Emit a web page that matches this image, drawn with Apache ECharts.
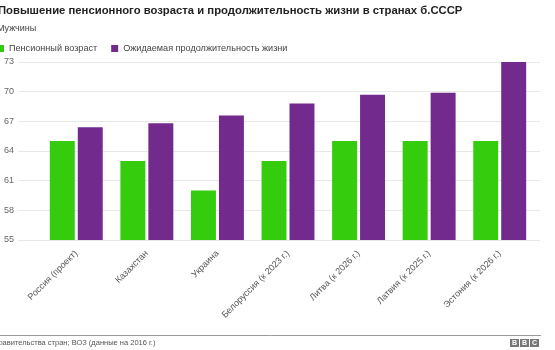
<!DOCTYPE html>
<html><head><meta charset="utf-8">
<script src="https://cdn.jsdelivr.net/npm/echarts@6/dist/echarts.min.js"></script>
<style>html,body{margin:0;padding:0;background:#fff}#c{width:555px;height:350px}</style>
</head><body><div id="c"></div>
<script>
const categories = ["Россия (проект)", "Казахстан", "Украина", "Белоруссия (к 2023 г.)", "Литва (к 2026 г.)", "Латвия (к 2025 г.)", "Эстония (к 2026 г.)"];
const pensionAge = [65, 63, 60, 63, 65, 65, 65];
const lifeExpectancy = [66.4, 66.8, 67.6, 68.8, 69.7, 69.9, 73];
const yTicks = [55, 58, 61, 64, 67, 70, 73];

const FONT = '"Liberation Sans", Arial, sans-serif';
const chart = echarts.init(document.getElementById('c'));
chart.setOption({
  animation: false,
  textStyle: {fontFamily: FONT},
  title: [
    {text: 'Повышение пенсионного возраста и продолжительность жизни в странах б.СССР', left: -7, top: 0,
     textStyle: {fontSize: 11.3, fontWeight: 'bold', color: '#222', fontFamily: FONT}},
    {text: 'Мужчины', left: -8, top: 19, textStyle: {fontSize: 9, fontWeight: 'normal', color: '#444', fontFamily: FONT}}
  ],
  legend: {
    left: -8, top: 39, itemWidth: 7, itemHeight: 7, itemGap: 14, icon: 'rect',
    textStyle: {fontSize: 9.1, color: '#444'},
    data: ['Пенсионный возраст', 'Ожидаемая продолжительность жизни']
  },
  grid: [
    {left: 18, right: 15, top: 62, bottom: 110},
    {left: 41, right: 20, top: 62, bottom: 110}
  ],
  xAxis: [
    {gridIndex: 0, type: 'category', data: categories, show: false},
    {gridIndex: 1, type: 'category', data: categories,
     axisLine: {show: false}, axisTick: {show: false},
     axisLabel: {rotate: 45, interval: 0, fontSize: 9, color: '#555', margin: 12}}
  ],
  yAxis: [
    {gridIndex: 0, type: 'value', min: yTicks[0], max: yTicks[yTicks.length - 1], interval: 3,
     axisLine: {show: false}, axisTick: {show: false},
     axisLabel: {fontSize: 9, color: '#666', margin: 4, align: 'right'},
     splitLine: {lineStyle: {color: '#e8e8e8'}}},
    {gridIndex: 1, type: 'value', min: yTicks[0], max: yTicks[yTicks.length - 1], interval: 3,
     show: false, splitLine: {show: false}}
  ],
  series: [
    {name: 'Пенсионный возраст', type: 'bar', xAxisIndex: 1, yAxisIndex: 1, data: pensionAge,
     itemStyle: {color: '#36cc0e'}, barGap: '12%', barCategoryGap: '25%'},
    {name: 'Ожидаемая продолжительность жизни', type: 'bar', xAxisIndex: 1, yAxisIndex: 1, data: lifeExpectancy,
     itemStyle: {color: '#722a8c'}, barGap: '12%', barCategoryGap: '25%'}
  ],
  graphic: [
    {type: 'line', shape: {x1: 0, y1: 335.5, x2: 541, y2: 335.5}, style: {stroke: '#9a9a9a', lineWidth: 1}},
    {type: 'text', left: -7, top: 339, style: {text: 'Правительства стран; ВОЗ (данные на 2016 г.)', fontSize: 7.5, fill: '#555', fontFamily: FONT}},
    {type: 'rect', shape: {x: 510, y: 339, width: 9, height: 8}, style: {fill: '#777'}},
    {type: 'rect', shape: {x: 520, y: 339, width: 9, height: 8}, style: {fill: '#777'}},
    {type: 'rect', shape: {x: 530, y: 339, width: 9, height: 8}, style: {fill: '#777'}},
    {type: 'text', x: 514.5, y: 343.5, style: {text: 'B', fontSize: 7, fontWeight: 'bold', fill: '#fff', align: 'center', verticalAlign: 'middle', fontFamily: FONT}},
    {type: 'text', x: 524.5, y: 343.5, style: {text: 'B', fontSize: 7, fontWeight: 'bold', fill: '#fff', align: 'center', verticalAlign: 'middle', fontFamily: FONT}},
    {type: 'text', x: 534.5, y: 343.5, style: {text: 'C', fontSize: 7, fontWeight: 'bold', fill: '#fff', align: 'center', verticalAlign: 'middle', fontFamily: FONT}}
  ]
});
</script></body></html>
